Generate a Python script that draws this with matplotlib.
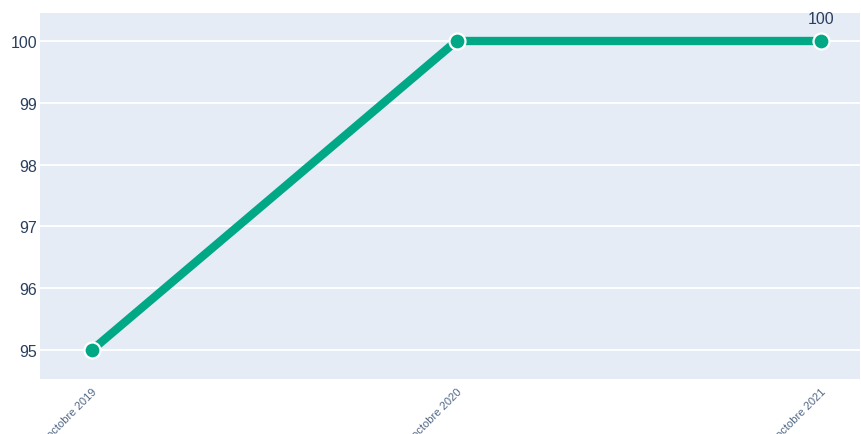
import matplotlib
matplotlib.use("Agg")
import matplotlib.pyplot as plt

categories = ["octobre 2019", "octobre 2020", "octobre 2021"]
values = [95, 100, 100]
yticks = [95, 96, 97, 98, 99, 100]

W, H = 861, 435
fig = plt.figure(figsize=(W / 100, H / 100), dpi=100)
ax = fig.add_axes([40 / W, 1 - 380 / H, 820 / W, 366 / H])
ax.set_facecolor("#E5ECF6")
for s in ax.spines.values():
    s.set_visible(False)

x = list(range(len(categories)))
ax.plot(x, values, color="#00A886", linewidth=6, solid_capstyle="round", zorder=3)
ax.plot(x, values, linestyle="none", marker="o", markersize=11.5,
        markerfacecolor="#00A886", markeredgecolor="white", markeredgewidth=1.6, zorder=4)
ax.annotate(str(values[-1]), (x[-1], values[-1]), xytext=(0, 10.5), textcoords="offset points",
            ha="center", va="bottom", fontsize=11.5, color="#2a3f5f", family="Liberation Sans")

ax.set_xlim(-0.1427, 2.107)
ax.set_ylim(94.53, 100.453)
ax.set_yticks(yticks)
ax.set_yticklabels([str(v) for v in yticks], fontsize=11.5, color="#2a3f5f", family="Liberation Sans")
ax.set_xticks(x)
ax.set_xticklabels(categories, rotation=45, ha="right", va="top", rotation_mode="anchor",
                   fontsize=8, color="#506784", family="Liberation Sans")
ax.tick_params(axis="both", length=0)
ax.tick_params(axis="y", pad=2)
ax.tick_params(axis="x", pad=5)
ax.grid(axis="y", color="white", linewidth=1.3)
ax.set_axisbelow(True)

fig.savefig("out.png", dpi=100)
